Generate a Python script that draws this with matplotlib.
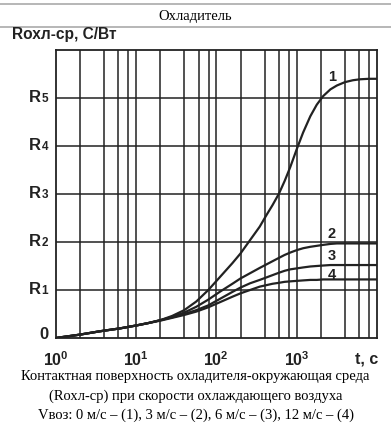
import numpy as np
import matplotlib
matplotlib.use("Agg")
import matplotlib.pyplot as plt
import matplotlib.transforms as mtransforms
from matplotlib.lines import Line2D

plt.rcParams["mathtext.fontset"] = "custom"
plt.rcParams["mathtext.rm"] = "Liberation Sans"
plt.rcParams["mathtext.bf"] = "Liberation Sans:bold"
plt.rcParams["mathtext.it"] = "Liberation Sans:italic"

# values: log10(t) and R (in units of R1)
log_t = [0.0, 0.3, 0.55, 0.8, 1.0, 1.15, 1.3, 1.45, 1.6, 1.75, 1.9, 2.05, 2.2, 2.3,
         2.42, 2.54, 2.62, 2.7, 2.78, 2.85, 2.92, 3.0, 3.08, 3.17, 3.25, 3.33,
         3.42, 3.5, 3.6, 3.7, 3.79, 3.9, 4.0]

r1 = [0.0, 0.07, 0.14, 0.2, 0.26, 0.31, 0.37, 0.46, 0.58, 0.76, 1.0, 1.28, 1.56, 1.76,
      2.04, 2.32, 2.55, 2.77, 3.01, 3.27, 3.56, 3.93, 4.28, 4.62, 4.86, 5.04,
      5.18, 5.26, 5.33, 5.37, 5.39, 5.4, 5.4]
r2 = [0.0, 0.07, 0.14, 0.2, 0.26, 0.31, 0.37, 0.44, 0.53, 0.65, 0.8, 0.97, 1.13, 1.24,
      1.35, 1.46, 1.53, 1.6, 1.67, 1.73, 1.78, 1.83, 1.87, 1.9, 1.92, 1.94,
      1.96, 1.97, 1.97, 1.97, 1.97, 1.97, 1.97]
r3 = [0.0, 0.07, 0.14, 0.2, 0.26, 0.31, 0.37, 0.43, 0.5, 0.58, 0.68, 0.82, 0.96, 1.05,
      1.14, 1.21, 1.26, 1.31, 1.36, 1.4, 1.43, 1.45, 1.47, 1.49, 1.5, 1.51,
      1.52, 1.52, 1.52, 1.52, 1.52, 1.52, 1.52]
r4 = [0.0, 0.07, 0.14, 0.2, 0.26, 0.31, 0.36, 0.42, 0.48, 0.55, 0.64, 0.75, 0.86, 0.93,
      1.0, 1.07, 1.1, 1.13, 1.15, 1.17, 1.18, 1.19, 1.2, 1.21, 1.21, 1.22,
      1.22, 1.22, 1.22, 1.22, 1.22, 1.22, 1.22]

curves = [r1, r2, r3, r4]
curve_names = ["1", "2", "3", "4"]
y_tick_digits = ["1", "2", "3", "4", "5"]
decades = [0, 1, 2, 3]

ink = "#222222"
W, H = 391, 424

fig = plt.figure(figsize=(W / 100, H / 100), dpi=100)
ax = fig.add_axes([55.7 / W, 1 - 338 / H, 321.3 / W, 288 / H])

t = 10 ** np.array(log_t)
for r in curves:
    ax.plot(t, r, color=ink, lw=1.6, zorder=3, solid_capstyle="round")

ax.set_xscale("log")
ax.set_xlim(1, 1e4)
ax.set_ylim(0, 6)

# grid lines at 2, 4, 6, 8 of every decade plus the decades
xgrid = []
for d in decades:
    for m in [1, 2, 4, 6, 8]:
        xgrid.append(m * 10 ** d)
for xv in xgrid[1:]:
    ax.axvline(xv, color=ink, lw=1.1, zorder=1)
for yv in range(1, 6):
    ax.axhline(yv, color=ink, lw=1.1, zorder=1)

for s in ax.spines.values():
    s.set_color(ink)
    s.set_linewidth(1.3)

ax.tick_params(length=0, pad=9)
ax.set_xticks([10 ** d for d in decades])
ax.set_xticklabels([r"$\mathbf{10}^{\mathbf{%d}}$" % d for d in decades], fontsize=11.5, color=ink)
ax.xaxis.set_minor_locator(matplotlib.ticker.NullLocator())
ax.set_yticks([])

# y labels: bold R with a smaller digit on the same baseline
ytr = mtransforms.blended_transform_factory(ax.transAxes, ax.transData)
dy = 4 / 48
ax.text(-7.4 / 321.3, 0 - 1 / 48, "0", transform=ytr, ha="right", va="baseline",
        fontsize=12, fontweight="bold", family="Liberation Sans", color=ink)
for i, dg in enumerate(y_tick_digits):
    yv = i + 1
    ax.text(-7.4 / 321.3, yv - dy, dg, transform=ytr, ha="right", va="baseline",
            fontsize=8.5, fontweight="bold", family="Liberation Sans", color=ink)
    ax.text(-15.2 / 321.3, yv - dy, "R", transform=ytr, ha="right", va="baseline",
            fontsize=12, fontweight="bold", family="Liberation Sans", color=ink)

fig.text(378 / W, 1 - 363.5 / H, "t, c", ha="right", va="baseline",
         fontsize=11.5, fontweight="bold", family="Liberation Sans", color=ink)

# curve numbers
label_pos = [(2735, 5.36), (2735, 2.08), (2735, 1.625), (2735, 1.23)]
for name, (xl, yl) in zip(curve_names, label_pos):
    ax.text(xl, yl, name, ha="center", va="baseline", fontsize=10.5,
            fontweight="bold", family="Liberation Sans", color=ink)

# header
fig.add_artist(Line2D([0, 1], [1 - 3.5 / H, 1 - 3.5 / H], color="#aaaaaa", lw=1.2))
fig.add_artist(Line2D([0, 1], [1 - 26.5 / H, 1 - 26.5 / H], color="#aaaaaa", lw=1.2))
fig.text(0.5, 1 - 20 / H, "Охладитель", ha="center", va="baseline",
         fontsize=10.5, family="Liberation Serif")
fig.text(12 / W, 1 - 39 / H, "Rохл-ср, С/Вт", ha="left", va="baseline",
         fontsize=11.2, fontweight="bold", family="Liberation Sans", color=ink)

caption = ["Контактная поверхность охладителя-окружающая среда",
           "(Rохл-ср) при скорости охлаждающего воздуха",
           "Vвоз: 0 м/с – (1), 3 м/с – (2), 6 м/с – (3), 12 м/с – (4)"]
for i, line in enumerate(caption):
    fig.text(0.5, 1 - (380 + 19.5 * i) / H, line, ha="center", va="baseline",
             fontsize=10.5, family="Liberation Serif")

fig.savefig("out.png", dpi=100)
